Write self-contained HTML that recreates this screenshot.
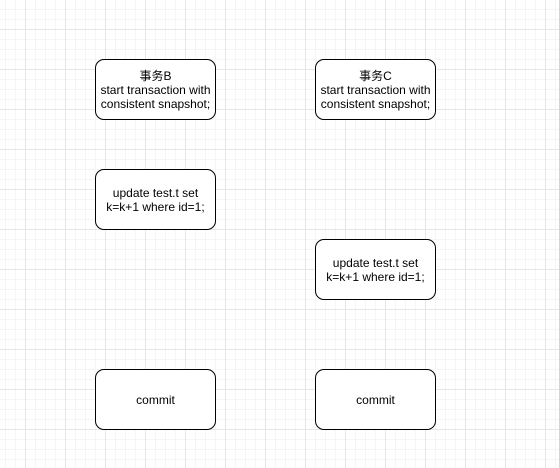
<!DOCTYPE html>
<html><head><meta charset="utf-8"><style>
html,body{margin:0;padding:0}
body{width:559px;height:468px;position:relative;overflow:hidden;background-color:#fff;
background-image:
linear-gradient(to right,#e6e6e6 1px,transparent 1px),
linear-gradient(to bottom,#e6e6e6 1px,transparent 1px),
linear-gradient(to right,#f5f5f5 1px,transparent 1px),
linear-gradient(to bottom,#f5f5f5 1px,transparent 1px);
background-size:40px 40px,40px 40px,10px 10px,10px 10px;
background-position:25px 0,0 29px,5px 0,0 9px;
font-family:"Liberation Sans","Noto Sans CJK SC",sans-serif;}
.b{position:absolute;width:119px;height:59px;border:1px solid #000;border-radius:9px;background:#fff;
display:flex;align-items:center;justify-content:center;text-align:center;font-size:12px;line-height:14px;color:#000}
</style></head><body>
<div class="b" style="left:95px;top:59px">事务B<br>start transaction with<br>consistent snapshot;</div>
<div class="b" style="left:315px;top:59px">事务C<br>start transaction with<br>consistent snapshot;</div>
<div class="b" style="left:95px;top:169px">update test.t set<br>k=k+1 where id=1;</div>
<div class="b" style="left:315px;top:239px">update test.t set<br>k=k+1 where id=1;</div>
<div class="b" style="left:95px;top:369px">commit</div>
<div class="b" style="left:315px;top:369px">commit</div>
</body></html>
